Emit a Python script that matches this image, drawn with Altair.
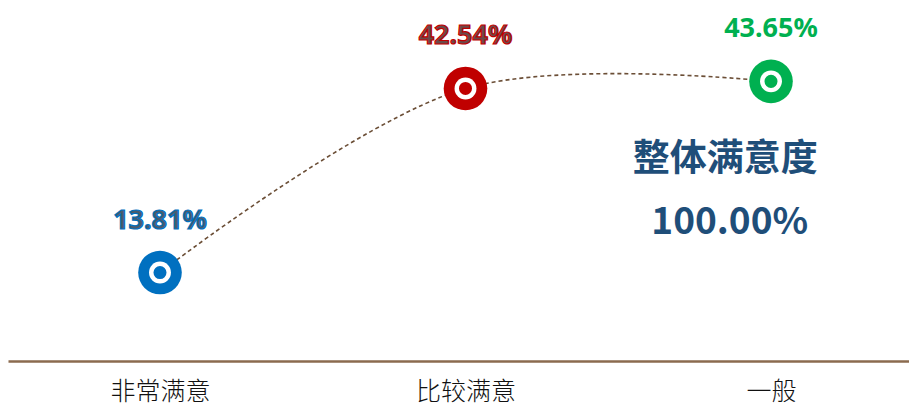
import altair as alt
import pandas as pd

categories = ["非常满意", "比较满意", "一般"]
values = [13.81, 42.54, 43.65]
labels = ["13.81%", "42.54%", "43.65%"]
colors = ["#0070C0", "#C00000", "#00B050"]
label_fill = ["#4A5C6E", "#6A4A4A", "#00B050"]
label_stroke = ["#0070C0", "#C00000", "#00B050"]
label_stroke_w = [1.2, 1.2, 0]

summary_title = "整体满意度"
summary_value = "100.00%"

df = pd.DataFrame({
    "idx": list(range(len(categories))),
    "cat": categories,
    "val": values,
    "label": labels,
    "color": colors,
    "lfill": label_fill,
    "lstroke": label_stroke,
    "lsw": label_stroke_w,
})

ann = pd.DataFrame({
    "idx": [1.85, 1.865],
    "val": [31.4, 21.6],
    "text": [summary_title, summary_value],
    "size": [37, 37],
})

W, H = 901, 353
xscale = alt.Scale(domain=[-0.4975, 2.4517], nice=False, zero=False)
yscale = alt.Scale(domain=[0, 55.1], nice=False, zero=True)

label_expr = "[" + ",".join("'" + c + "'" for c in categories) + "][datum.value]"

base = alt.Chart(df)

x_enc = alt.X("idx:Q", scale=xscale, axis=alt.Axis(
    values=list(range(len(categories))), labelExpr=label_expr, title=None,
    ticks=False, grid=False, domainColor="#8B6B4F", domainWidth=2.5,
    labelFont="Noto Sans CJK SC", labelFontSize=25, labelColor="#111111",
    labelPadding=18, labelFontWeight=300))
y_enc = alt.Y("val:Q", scale=yscale, axis=None)

line = base.mark_line(interpolate="catmull-rom", strokeDash=[4, 3], color="#6B4E36", strokeWidth=1.6).encode(
    x=x_enc, y=y_enc)

outer = base.mark_point(shape="circle", filled=True, size=1900, opacity=1).encode(
    x="idx:Q", y="val:Q", color=alt.Color("color:N", scale=None))
ring = base.mark_point(shape="circle", filled=True, size=480, opacity=1, color="white").encode(
    x="idx:Q", y="val:Q")
inner = base.mark_point(shape="circle", filled=True, size=170, opacity=1).encode(
    x="idx:Q", y="val:Q", color=alt.Color("color:N", scale=None))

text = base.mark_text(font="Noto Sans", fontWeight="bold", fontSize=27, dy=-44, baseline="alphabetic", align="center").encode(
    x="idx:Q", y="val:Q", text="label:N",
    fill=alt.Fill("lfill:N", scale=None),
    stroke=alt.Stroke("lstroke:N", scale=None),
    strokeWidth=alt.StrokeWidth("lsw:Q", scale=None))

annot = alt.Chart(ann).mark_text(font="Noto Sans CJK SC", fontWeight="bold", color="#1F4E79", align="center", baseline="middle").encode(
    x="idx:Q", y="val:Q", text="text:N", size=alt.Size("size:Q", scale=None, legend=None))

chart = alt.layer(line, outer, ring, inner, text, annot).properties(
    width=W, height=H, padding={"left": 0, "top": 0, "right": 0, "bottom": 4},
).configure_view(stroke=None)

chart.save("out.html", embed_options={"renderer": "svg", "actions": False})
